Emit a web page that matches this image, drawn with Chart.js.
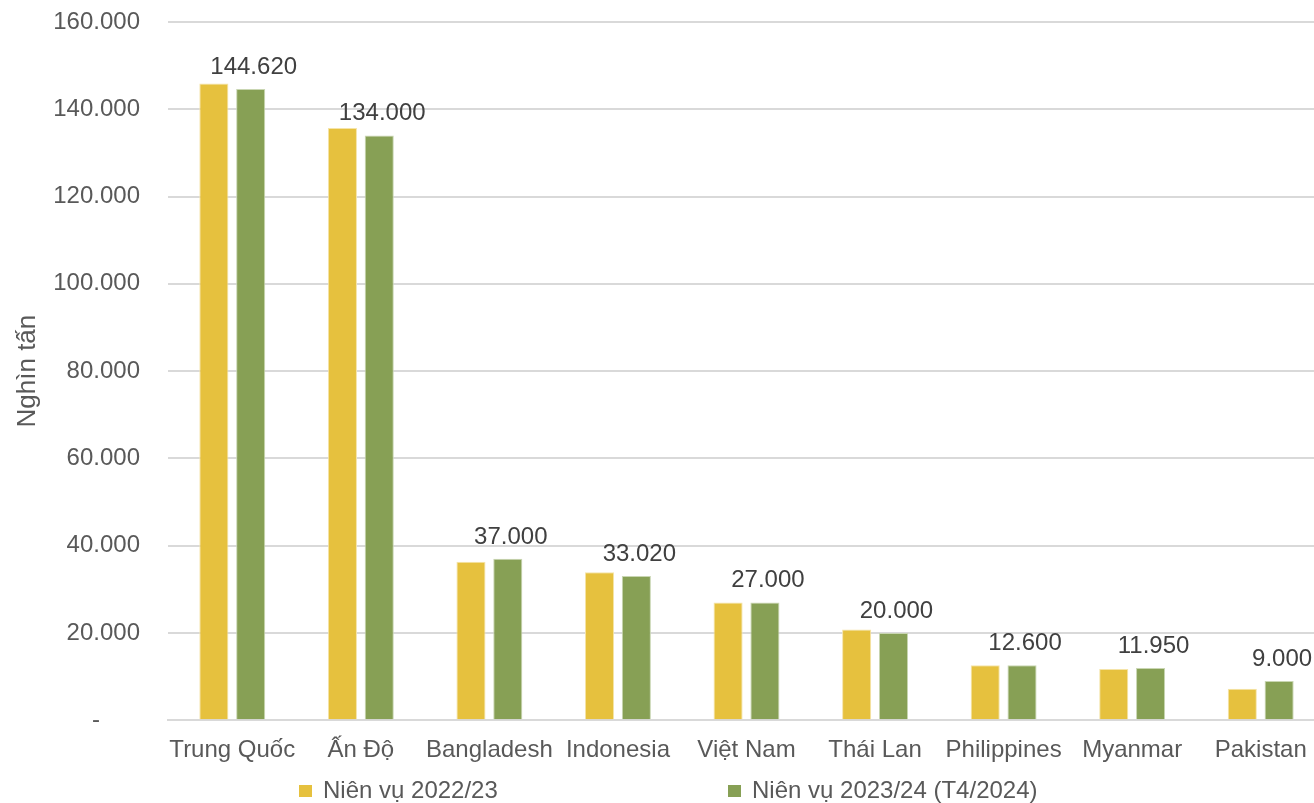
<!DOCTYPE html>
<html>
<head>
<meta charset="utf-8">
<script src="https://cdn.jsdelivr.net/npm/chart.js@4.4.1/dist/chart.umd.min.js"></script>
<style>
  html, body { margin: 0; padding: 0; background: #fff; overflow: hidden; }
  /* anh goc bi cat mat mot chut ben phai */
  #wrap { width: 1325px; height: 803px; position: relative; }
</style>
</head>
<body>
<div id="wrap"><canvas id="myChart"></canvas></div>
<script>
// du lieu doc tu hinh
const categories = ['Trung Quốc', 'Ấn Độ', 'Bangladesh', 'Indonesia', 'Việt Nam', 'Thái Lan', 'Philippines', 'Myanmar', 'Pakistan'];
const seriesNames = ['Niên vụ 2022/23', 'Niên vụ 2023/24 (T4/2024)'];
const vals2022 = [145900, 135700, 36300, 33900, 27000, 20800, 12600, 11750, 7200];
const vals2023 = [144620, 134000, 37000, 33020, 27000, 20000, 12600, 11950, 9000];
const yTicks = [0, 20000, 40000, 60000, 80000, 100000, 120000, 140000, 160000];

const colors = ['#E6C13E', '#87A055'];
const fontFamily = '"Liberation Sans", Arial, sans-serif';

const fmt = (v) => v.toLocaleString('de-DE');

// ve nhan gia tri tren cot xanh + chu thich
const labelPlugin = {
  id: 'valueLabels',
  afterDatasetsDraw(chart) {
    const ctx = chart.ctx;
    const meta = chart.getDatasetMeta(1);
    ctx.save();
    ctx.font = '24px ' + fontFamily;
    ctx.fillStyle = '#404040';
    ctx.textAlign = 'center';
    ctx.textBaseline = 'alphabetic';
    meta.data.forEach((bar, i) => {
      ctx.fillText(fmt(vals2023[i]), bar.x + 3, bar.y - 15);
    });
    ctx.restore();
  },
  afterDraw(chart) {
    const ctx = chart.ctx;
    const y = chart.height - 12;
    const starts = [299, 728];
    ctx.save();
    ctx.font = '24px ' + fontFamily;
    ctx.textBaseline = 'alphabetic';
    ctx.textAlign = 'left';
    seriesNames.forEach((name, i) => {
      ctx.fillStyle = colors[i];
      ctx.fillRect(starts[i], y - 6, 13, 12);
      ctx.fillStyle = '#595959';
      ctx.fillText(name, starts[i] + 24, y + 7);
    });
    ctx.restore();
  }
};

const ctx = document.getElementById('myChart');
new Chart(ctx, {
  type: 'bar',
  data: {
    labels: categories,
    datasets: [
      { label: seriesNames[0], data: vals2022, backgroundColor: colors[0], borderColor: '#F5E4A8', borderWidth: 1 },
      { label: seriesNames[1], data: vals2023, backgroundColor: colors[1], borderColor: '#C9D6B2', borderWidth: 1 }
    ]
  },
  options: {
    responsive: true,
    maintainAspectRatio: false,
    animation: false,
    categoryPercentage: 0.573,
    barPercentage: 0.79,
    layout: { autoPadding: false, padding: { top: 22, right: 0, bottom: 30, left: 12 } },
    plugins: {
      legend: { display: false },
      tooltip: { enabled: false }
    },
    scales: {
      x: {
        grid: { display: false },
        border: { color: '#D9D9D9', width: 2 },
        ticks: { color: '#595959', font: { family: fontFamily, size: 24 }, padding: 8, maxRotation: 0, autoSkip: false }
      },
      y: {
        min: 0,
        max: 160000,
        afterBuildTicks(axis) { axis.ticks = yTicks.map(v => ({ value: v })); },
        afterFit(axis) { axis.width = 156; },
        grid: { color: '#D9D9D9', lineWidth: 2, drawTicks: true, tickLength: 28, tickColor: 'rgba(0,0,0,0)' },
        border: { display: false },
        ticks: {
          color: '#595959',
          font: { family: fontFamily, size: 24 },
          padding: 0,
          callback: (v) => v === 0 ? '-      ' : fmt(v)
        },
        title: { display: true, text: 'Nghìn tấn', color: '#595959', font: { family: fontFamily, size: 26 }, padding: { top: 0, bottom: 4 } }
      }
    }
  },
  plugins: [labelPlugin]
});
</script>
</body>
</html>
